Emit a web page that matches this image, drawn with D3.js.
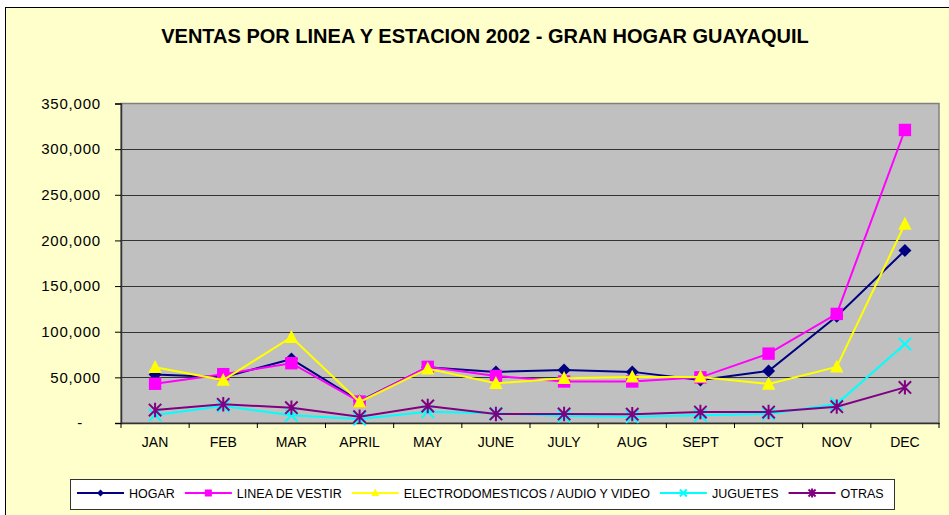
<!DOCTYPE html>
<html>
<head>
<meta charset="utf-8">
<script src="https://cdn.jsdelivr.net/npm/d3@7"></script>
<style>
  body { margin: 0; background: #fff; }
  svg { display: block; font-family: Arial, "Liberation Sans", sans-serif; }
</style>
</head>
<body>
<svg id="chart" width="949" height="515"></svg>
<script>
// datos
var meses = ["JAN", "FEB", "MAR", "APRIL", "MAY", "JUNE", "JULY", "AUG", "SEPT", "OCT", "NOV", "DEC"];
var hogar = [53000, 50000, 70000, 24000, 61000, 56000, 58000, 56000, 47000, 57000, 117000, 189000];
var lineaVestir = [43000, 53500, 65500, 23500, 61500, 51500, 45500, 45500, 50000, 76000, 119500, 321000];
var electro = [61000, 47000, 94000, 23000, 59500, 43500, 49000, 50500, 50500, 42700, 61500, 218000];
var juguetes = [8800, 18500, 8500, 4400, 12400, 10600, 7700, 6900, 8400, 9900, 20800, 86500];
var otras = [14200, 20500, 16800, 6900, 18600, 9900, 9900, 9700, 12000, 12000, 17900, 39000];
var nombres = ["HOGAR", "LINEA DE VESTIR", "ELECTRODOMESTICOS / AUDIO Y VIDEO", "JUGUETES", "OTRAS"];
var colores = ["#000080", "#FF00FF", "#FFFF00", "#00FFFF", "#800080"];
var marcadores = ["diamond", "square", "triangle", "x", "star"];
var yTicks = [0, 50000, 100000, 150000, 200000, 250000, 300000, 350000];

var series = [hogar, lineaVestir, electro, juguetes, otras].map(function(v, i) {
  return { nombre: nombres[i], valores: v, color: colores[i], marcador: marcadores[i] };
});

var svg = d3.select("#chart");
var W = 949, H = 515;
var plot = { left: 121, top: 103.5, right: 939, bottom: 423 };

// fondo del grafico
svg.append("rect").attr("x", 5.5).attr("y", 7.5).attr("width", W + 10).attr("height", H + 10)
  .attr("fill", "#FFFFCC").attr("stroke", "#000").attr("stroke-width", 1);

svg.append("text")
  .attr("x", 485).attr("y", 42.5)
  .attr("text-anchor", "middle")
  .attr("font-size", 20).attr("font-weight", "bold")
  .text("VENTAS POR LINEA Y ESTACION 2002 - GRAN HOGAR GUAYAQUIL");

var x = d3.scaleBand().domain(meses).range([plot.left, plot.right]);
var y = d3.scaleLinear().domain([0, 350000]).range([plot.bottom, plot.top]);

// area de trazado
svg.append("rect")
  .attr("x", plot.left).attr("y", plot.top)
  .attr("width", plot.right - plot.left).attr("height", plot.bottom - plot.top)
  .attr("fill", "#C0C0C0").attr("stroke", "#808080").attr("stroke-width", 1.5);

svg.append("g").selectAll("line").data(yTicks.slice(1, -1)).join("line")
  .attr("x1", plot.left).attr("x2", plot.right)
  .attr("y1", function(d) { return Math.round(y(d)) + 0.5; })
  .attr("y2", function(d) { return Math.round(y(d)) + 0.5; })
  .attr("stroke", "#333").attr("stroke-width", 1);

// ejes
var yAxis = d3.axisLeft(y).tickValues(yTicks).tickSize(6).tickPadding(14)
  .tickFormat(function(d) { return d === 0 ? "-" : d3.format(",")(d); });
var gy = svg.append("g").attr("transform", "translate(" + plot.left + ",0)").call(yAxis);
gy.select(".domain").attr("stroke", "#333").attr("stroke-width", 1.5);
gy.selectAll(".tick line").attr("stroke", "#000");
gy.selectAll(".tick text").attr("font-size", 15).attr("fill", "#000")
  .attr("letter-spacing", 0.8)
  .attr("font-family", "Arial, 'Liberation Sans', sans-serif");
gy.selectAll(".tick text").filter(function(d) { return d === 0; }).attr("dx", -18);

var xAxis = d3.axisBottom(x).tickSize(0).tickPadding(14);
var gx = svg.append("g").attr("transform", "translate(0," + plot.bottom + ")").call(xAxis);
gx.select(".domain").attr("stroke", "#333").attr("stroke-width", 1.5);
gx.selectAll(".tick text").attr("font-size", 14).attr("fill", "#000")
  .attr("font-family", "Arial, 'Liberation Sans', sans-serif");
svg.append("g").selectAll("line").data(meses.concat(["_fin"])).join("line")
  .attr("x1", function(d, i) { return plot.left + i * x.step(); })
  .attr("x2", function(d, i) { return plot.left + i * x.step(); })
  .attr("y1", plot.bottom).attr("y2", plot.bottom + 5)
  .attr("stroke", "#000");

// simbolos
function dibujaMarcador(g, tipo, color, s) {
  if (tipo === "diamond") {
    g.append("path").attr("d", "M0," + (-s) + "L" + s + ",0L0," + s + "L" + (-s) + ",0Z").attr("fill", color);
  } else if (tipo === "square") {
    g.append("rect").attr("x", -s).attr("y", -s).attr("width", 2 * s).attr("height", 2 * s).attr("fill", color);
  } else if (tipo === "triangle") {
    g.append("path").attr("d", "M0," + (-s - 1) + "L" + (s + 0.5) + "," + (s - 0.5) + "L" + (-s - 0.5) + "," + (s - 0.5) + "Z").attr("fill", color);
  } else if (tipo === "x") {
    g.append("path").attr("d", "M" + (-s) + "," + (-s) + "L" + s + "," + s + "M" + (-s) + "," + s + "L" + s + "," + (-s))
      .attr("stroke", color).attr("stroke-width", 2);
  } else {
    g.append("path").attr("d", "M" + (-s) + "," + (-s) + "L" + s + "," + s + "M" + (-s) + "," + s + "L" + s + "," + (-s) + "M0," + (-s - 1) + "L0," + (s + 1))
      .attr("stroke", color).attr("stroke-width", 2);
  }
}

var linea = d3.line()
  .x(function(d, i) { return x(meses[i]) + x.bandwidth() / 2; })
  .y(function(d) { return y(d); });

series.forEach(function(s) {
  var g = svg.append("g");
  g.append("path").datum(s.valores).attr("d", linea)
    .attr("fill", "none").attr("stroke", s.color).attr("stroke-width", 2);
  s.valores.forEach(function(v, i) {
    var m = g.append("g").attr("transform", "translate(" + (x(meses[i]) + x.bandwidth() / 2) + "," + y(v) + ")");
    dibujaMarcador(m, s.marcador, s.color, s.marcador === "diamond" ? 6.5 : 6.2);
  });
});

// leyenda
var leyenda = svg.append("g");
leyenda.append("rect").attr("x", 70.5).attr("y", 479.5).attr("width", 824).attr("height", 30)
  .attr("fill", "#fff").attr("stroke", "#333").attr("stroke-width", 1);
var lx = 77;
series.forEach(function(s) {
  var g = leyenda.append("g").attr("transform", "translate(" + lx + ",493)");
  g.append("line").attr("x1", 0).attr("x2", 47).attr("stroke", s.color).attr("stroke-width", 2);
  var m = g.append("g").attr("transform", "translate(23.5,0)");
  dibujaMarcador(m, s.marcador, s.color, 3.5);
  var t = g.append("text").attr("x", 52).attr("y", 4.5).attr("font-size", 12.5).text(s.nombre);
  lx += 52 + t.node().getComputedTextLength() + 10;
});
</script>
</body>
</html>
